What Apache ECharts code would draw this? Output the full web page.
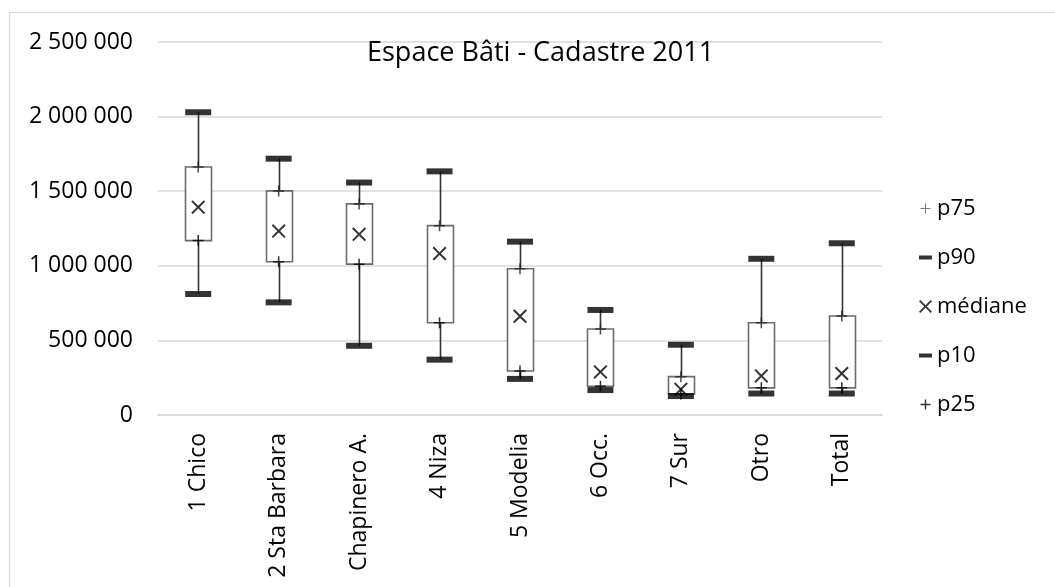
<!DOCTYPE html>
<html>
<head>
<meta charset="utf-8">
<script src="https://cdn.jsdelivr.net/npm/echarts@6/dist/echarts.min.js"></script>
<style>
  html, body { margin: 0; padding: 0; background: #fff; }
  #main { width: 1055px; height: 587px; }
</style>
</head>
<body>
<div id="main"></div>
<script>
// quartiles par secteur
var categories = ['1 Chico', '2 Sta Barbara', 'Chapinero A.', '4 Niza', '5 Modelia', '6 Occ.', '7 Sur', 'Otro', 'Total'];
var p10 = [811000, 755000, 464000, 371000, 242000, 167000, 127000, 144000, 144000];
var p25 = [1169000, 1027000, 1011000, 618000, 295000, 193000, 140000, 182000, 182000];
var mediane = [1393000, 1233000, 1211000, 1082000, 662000, 289000, 172000, 262000, 278000];
var p75 = [1662000, 1502000, 1415000, 1269000, 980000, 576000, 257000, 618000, 664000];
var p90 = [2029000, 1718000, 1558000, 1633000, 1162000, 704000, 471000, 1047000, 1151000];
var yMin = 0, yMax = 2500000, yStep = 500000;

var FONT = 'Open Sans';
var crossPath = 'path://M0,1L1,0L5,4L9,0L10,1L6,5L10,9L9,10L5,6L1,10L0,9L4,5Z';
var plusPath = 'path://M4.3,0h1.4v10h-1.4zM0,4.3h10v1.4h-10z';
var plusThin = 'path://M0,0M13,13M6,1.5h1v10h-1zM1.5,6h10v1h-10z';
var plusLeg = 'path://M0,0M13,13M5.8,1.5h1.4v10h-1.4zM1.5,5.8h10v1.4h-10z';
var dashLeg = 'path://M0,0M13,13M0,4.5h13v4h-13z';

var boxData = categories.map(function (c, i) {
  return [i, p10[i], p25[i], p75[i], p90[i]];
});

function fmt(v) {
  return String(v).replace(/\B(?=(\d{3})+(?!\d))/g, ' ');
}

var myChart = echarts.init(document.getElementById('main'));
var option = {
  animation: false,
  title: {
    text: 'Espace Bâti - Cadastre 2011',
    left: 362,
    top: 35,
    textStyle: { fontFamily: FONT, fontSize: 27, fontWeight: 'normal', color: '#000' }
  },
  legend: {
    orient: 'vertical',
    left: 914,
    top: 192,
    itemWidth: 13,
    itemHeight: 13,
    itemGap: 26,
    textStyle: { fontFamily: FONT, fontSize: 22, color: '#000', lineHeight: 23 },
    data: [
      { name: 'p75', icon: plusThin, itemStyle: { color: '#555' } },
      { name: 'p90', icon: dashLeg },
      { name: 'médiane', icon: crossPath },
      { name: 'p10', icon: dashLeg },
      { name: 'p25', icon: plusLeg }
    ]
  },
  grid: { left: 158, right: 173, top: 42, bottom: 172 },
  xAxis: {
    type: 'category',
    data: categories,
    axisLine: { lineStyle: { color: '#d9d9d9', width: 1.5 } },
    axisTick: { show: false },
    axisLabel: { rotate: 90, margin: 18, fontFamily: FONT, fontSize: 23, color: '#000' }
  },
  yAxis: {
    type: 'value',
    min: yMin,
    max: yMax,
    interval: yStep,
    axisLine: { show: false },
    axisTick: { show: false },
    splitLine: { lineStyle: { color: '#d9d9d9', width: 1.5 } },
    axisLabel: { margin: 25, fontFamily: FONT, fontSize: 23, color: '#000', formatter: fmt }
  },
  series: [
    {
      name: 'boite',
      type: 'custom',
      data: boxData,
      encode: { x: 0, y: [1, 2, 3, 4] },
      z: 2,
      renderItem: function (params, api) {
        var i = api.value(0);
        var lo = api.coord([i, api.value(1)]);
        var q1 = api.coord([i, api.value(2)]);
        var q3 = api.coord([i, api.value(3)]);
        var hi = api.coord([i, api.value(4)]);
        var w = 26;
        var x = Math.round(lo[0]) + 0.5;
        return {
          type: 'group',
          children: [
            { type: 'line', shape: { x1: x, y1: hi[1], x2: x, y2: q3[1] }, style: { stroke: '#333', lineWidth: 1.6 } },
            { type: 'line', shape: { x1: x, y1: q1[1], x2: x, y2: lo[1] }, style: { stroke: '#333', lineWidth: 1.6 } },
            { type: 'rect', shape: { x: x - w / 2, y: q3[1], width: w, height: q1[1] - q3[1] }, style: { fill: '#fff', stroke: '#6b6b6b', lineWidth: 1.6 } }
          ]
        };
      }
    },
    { name: 'p75', type: 'scatter', data: p75, symbol: plusPath, symbolSize: 11, itemStyle: { color: '#222' }, z: 5 },
    { name: 'p90', type: 'scatter', data: p90, symbol: 'rect', symbolSize: [26, 6], itemStyle: { color: '#000' }, z: 5 },
    { name: 'médiane', type: 'scatter', data: mediane, symbol: crossPath, symbolSize: 14, itemStyle: { color: '#000' }, z: 5 },
    { name: 'p10', type: 'scatter', data: p10, symbol: 'rect', symbolSize: [26, 6], itemStyle: { color: '#000' }, z: 5 },
    { name: 'p25', type: 'scatter', data: p25, symbol: plusPath, symbolSize: 11, itemStyle: { color: '#000' }, z: 5 }
  ],
  graphic: [
    { type: 'rect', silent: true, z: -1, shape: { x: 9.5, y: 12.5, width: 1200, height: 800 }, style: { fill: 'none', stroke: '#d9d9d9', lineWidth: 1.2 } }
  ]
};
myChart.setOption(option);
</script>
</body>
</html>
